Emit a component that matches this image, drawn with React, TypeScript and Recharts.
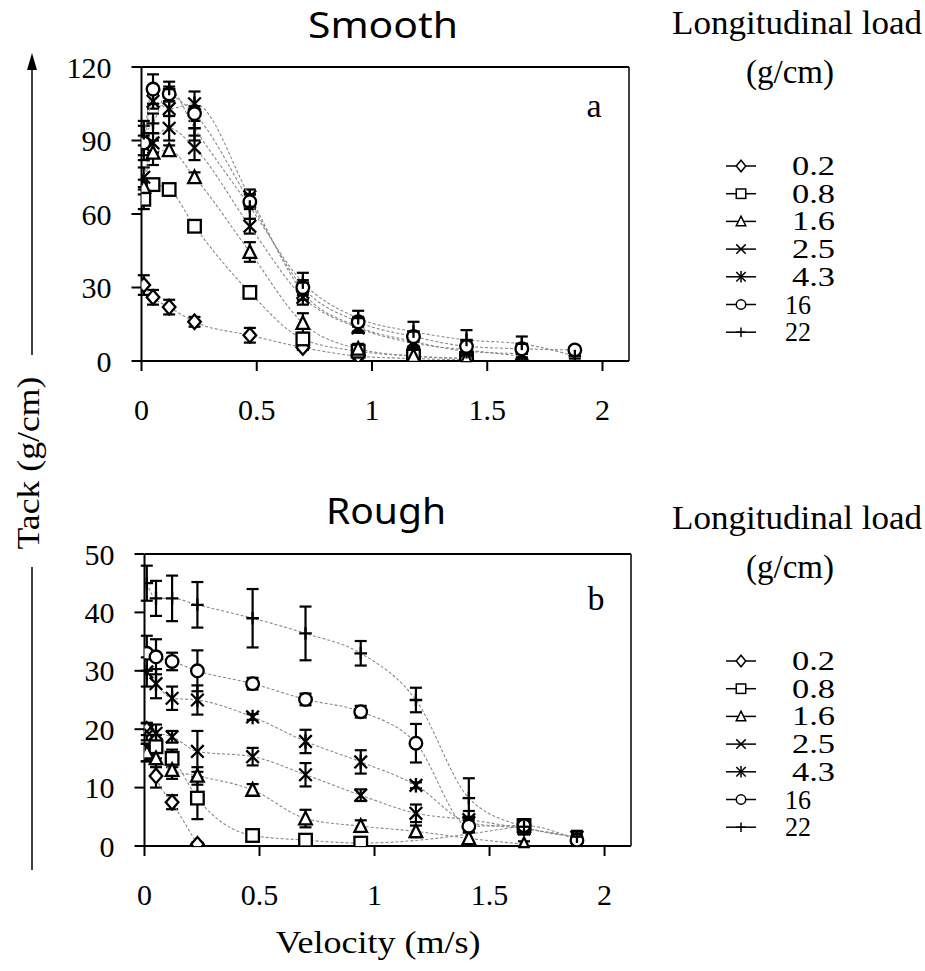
import React from 'react';
import { ComposedChart, Line, XAxis, YAxis, ErrorBar, ReferenceLine } from 'recharts';

// ---------- data ----------
const velocities = [0.01, 0.05, 0.12, 0.23, 0.47, 0.7, 0.94, 1.18, 1.41, 1.65, 1.88];
const loads = ['0.2', '0.8', '1.6', '2.5', '4.3', '16', '22'];
const markers = ['diamond', 'square', 'triangle', 'cross', 'asterisk', 'circle', 'plus'];
const xTicks = [0, 0.5, 1, 1.5, 2];
const smoothTicks = [0, 30, 60, 90, 120];
const roughTicks = [0, 10, 20, 30, 40, 50];

// Smooth surface: tack (g/cm) per velocity, null = not measured
const smooth02 = [31, 26, 22, 16, 10.5, 5.5, 2, 1, 0.5, null, null];
const smooth08 = [66, 72, 70, 55, 28, 9, 4, 2, 1, null, null];
const smooth16 = [71, 85, 86, 75, 44.5, 15.5, 5, 2, 1, null, null];
const smooth25 = [75, 89, 95, 87, 55, 26, 13.5, 7.3, 4.5, 2, null];
const smooth43 = [88, 106, 103, 105, 67, 28, 14, 8, 4, 3, null];
const smooth160 = [89, 111, 109, 101, 65, 30, 16, 10, 6, 5, 4.5];
const smooth220 = [93, 97, 111, 95, 63, 32, 17.5, 12, 8.6, 7, 2];

const smoothErr02 = [4, 3, 3, 2, 3, 1, 1, 0.5, 0.5, null, null];
const smoothErr08 = [4, 2, 1, 2, 2, 1, 1, 1, 1, null, null];
const smoothErr16 = [3, 5, 2, 2, 4, 4, 2, 1, 1, null, null];
const smoothErr25 = [4, 4, 5, 5, 3, 3, 2, 2, 2, 1, null];
const smoothErr43 = [4, 3, 3, 5, 3, 3, 2, 2, 2, 1.5, null];
const smoothErr160 = [7, 6, 3, 3, 3, 3, 2, 2, 2, 2, 1.5];
const smoothErr220 = [5, 4, 3, 5, 5, 4, 3, 4, 4, 3, 1];

// Rough surface
const rough02 = [20, 12, 7.5, 0.3, null, null, null, null, null, null, null];
const rough08 = [16, 17, 15, 8.2, 1.8, 1, 0.5, null, null, 3.5, null];
const rough16 = [16, 15, 13, 12, 9.6, 4.7, 3.4, 2.5, 1.3, 0.3, null];
const rough25 = [19.6, 19.3, 18.7, 16.2, 15.3, 12.2, 8.7, 5.6, 4.5, 3, 1.5];
const rough43 = [29.8, 27.8, 25.3, 25, 22.1, 17.9, 14.4, 10.4, 4, 3, 1.5];
const rough160 = [33, 32.4, 31.6, 30, 27.8, 25.1, 23, 17.6, 3.4, 3.5, 1];
const rough220 = [45, 42.4, 42.4, 41.3, 39, 36.4, 33, 25, 8.2, 3.3, 1.6];

const roughErr02 = [1, 2, 1.2, 0.3, null, null, null, null, null, null, null];
const roughErr08 = [1.5, 2, 1.5, 3.6, 0.5, 0.5, 0.5, null, null, 1, null];
const roughErr16 = [1.5, 1.5, 1.5, 1.5, 1, 1.5, 1, 1, 1, 0.5, null];
const roughErr25 = [1.5, 1.5, 1, 3.5, 1.5, 2, 1, 1.5, 1.5, 1, 1];
const roughErr43 = [2.5, 2.5, 2, 2.5, 0.5, 2, 2, 0.5, 1, 1, 1];
const roughErr160 = [3, 3, 1.5, 3.5, 1, 1, 1, 3.3, 1, 1, 1];
const roughErr220 = [3, 3, 3.9, 3.9, 5, 4.6, 2.1, 2.1, 3.4, 1, 1];

const smoothSeries = [smooth02, smooth08, smooth16, smooth25, smooth43, smooth160, smooth220];
const smoothErrors = [smoothErr02, smoothErr08, smoothErr16, smoothErr25, smoothErr43, smoothErr160, smoothErr220];
const roughSeries = [rough02, rough08, rough16, rough25, rough43, rough160, rough220];
const roughErrors = [roughErr02, roughErr08, roughErr16, roughErr25, roughErr43, roughErr160, roughErr220];

// ---------- helpers ----------
const serif = 'Liberation Serif';
const sans = 'Noto Sans';

function build(vals: (number | null)[], errs: (number | null)[]) {
  return velocities
    .map((v, i) => ({ v, t: vals[i], e: errs[i] ?? 0.5 }))
    .filter((d) => d.t !== null && d.t !== undefined);
}

function Marker({ shape, cx, cy, s = 1, sw = 2.3 }: { shape: string; cx: number; cy: number; s?: number; sw?: number }) {
  const r = 6.3 * s;
  const common = { fill: '#fff', stroke: '#000', strokeWidth: sw };
  switch (shape) {
    case 'diamond':
      return <polygon points={`${cx},${cy - r - 1} ${cx + r},${cy} ${cx},${cy + r + 1} ${cx - r},${cy}`} {...common} />;
    case 'square':
      return <rect x={cx - r} y={cy - r} width={2 * r} height={2 * r} {...common} />;
    case 'triangle':
      return <polygon points={`${cx},${cy - r - 0.5} ${cx + r},${cy + r - 0.5} ${cx - r},${cy + r - 0.5}`} {...common} />;
    case 'cross':
      return (
        <g stroke="#000" strokeWidth={sw}>
          <line x1={cx - r} y1={cy - r} x2={cx + r} y2={cy + r} />
          <line x1={cx - r} y1={cy + r} x2={cx + r} y2={cy - r} />
        </g>
      );
    case 'asterisk':
      return (
        <g stroke="#000" strokeWidth={sw}>
          <line x1={cx - r} y1={cy - r} x2={cx + r} y2={cy + r} />
          <line x1={cx - r} y1={cy + r} x2={cx + r} y2={cy - r} />
          <line x1={cx} y1={cy - r - 1} x2={cx} y2={cy + r + 1} />
        </g>
      );
    case 'circle':
      return <circle cx={cx} cy={cy} r={r} {...common} />;
    default:
      return (
        <g stroke="#000" strokeWidth={sw}>
          <line x1={cx - r} y1={cy} x2={cx + r} y2={cy} />
          <line x1={cx} y1={cy - r} x2={cx} y2={cy + r} />
        </g>
      );
  }
}

function makeDot(shape: string, name: string) {
  return (p: any) => {
    if (p == null || !Number.isFinite(p.cx) || !Number.isFinite(p.cy)) return <g key={`${name}-${p?.index}`} />;
    return (
      <g key={`${name}-${p.index}`}>
        <Marker shape={shape} cx={p.cx} cy={p.cy} />
      </g>
    );
  };
}

const axisLine = { stroke: '#000', strokeWidth: 2 };
const tickStyle = { fill: '#000', fontSize: 30, style: { fontFamily: serif } };

function Panel({ series, errors, yMax, yTicks, prefix, width, height, margin }: any) {
  return (
    <ComposedChart width={width} height={height} margin={margin} style={{ fontFamily: serif }}>
      <XAxis
        type="number"
        dataKey="v"
        domain={[0, 2.115]}
        allowDataOverflow
        ticks={xTicks}
        axisLine={axisLine}
        tickLine={axisLine}
        tickSize={10}
        tickMargin={28}
        tick={tickStyle}
        height={40}
      />
      <YAxis
        type="number"
        domain={[0, yMax]}
        allowDataOverflow
        ticks={yTicks}
        axisLine={axisLine}
        tickLine={axisLine}
        tickSize={10}
        tickMargin={20}
        tick={tickStyle}
        width={60}
      />
      <ReferenceLine y={yMax} stroke="#000" strokeWidth={2} />
      <ReferenceLine x={2.115} stroke="#000" strokeWidth={1.5} />
      {series.map((vals: (number | null)[], i: number) => (
        <Line
          key={`${prefix}-${loads[i]}`}
          data={build(vals, errors[i])}
          dataKey="t"
          name={loads[i]}
          type="monotone"
          stroke="#8a8a8a"
          strokeWidth={1.1}
          strokeDasharray="3 2"
          isAnimationActive={false}
          dot={makeDot(markers[i], `${prefix}-${loads[i]}`)}
          activeDot={false}
        >
          <ErrorBar dataKey="e" direction="y" width={6} stroke="#000" strokeWidth={2.2} />
        </Line>
      ))}
    </ComposedChart>
  );
}

function LegendBlock({ y0 }: { y0: number }) {
  return (
    <g fill="#000" style={{ fontFamily: serif }}>
      <text x={797} y={y0 + 34} textAnchor="middle" fontSize={33} textLength={250} lengthAdjust="spacingAndGlyphs">
        Longitudinal load
      </text>
      <text x={790} y={y0 + 83} textAnchor="middle" fontSize={33} textLength={88} lengthAdjust="spacingAndGlyphs">
        (g/cm)
      </text>
      {loads.map((l, i) => {
        const cy = y0 + 166 + i * 27.7;
        const wide = l.length >= 3;
        return (
          <g key={l}>
            <line x1={726} x2={756} y1={cy} y2={cy} stroke="#000" strokeWidth={1.5} />
            <Marker shape={markers[i]} cx={741} cy={cy} s={0.75} sw={1.5} />
            <text x={wide ? 792 : 785} y={cy + 9} fontSize={27} textLength={wide ? 43 : 26} lengthAdjust="spacingAndGlyphs">
              {l}
            </text>
          </g>
        );
      })}
    </g>
  );
}

export default function App() {
  return (
    <div style={{ position: 'absolute', left: 0, top: 0, width: 925, height: 971, background: '#fff', overflow: 'hidden', fontFamily: serif }}>
      <div style={{ position: 'absolute', left: 0, top: 0 }}>
        <Panel
          series={smoothSeries}
          errors={smoothErrors}
          yMax={120}
          yTicks={smoothTicks}
          prefix="smooth"
          width={640}
          height={430}
          margin={{ top: 67, right: 11, bottom: 29, left: 81.5 }}
        />
      </div>
      <div style={{ position: 'absolute', left: 0, top: 480 }}>
        <Panel
          series={roughSeries}
          errors={roughErrors}
          yMax={50}
          yTicks={roughTicks}
          prefix="rough"
          width={640}
          height={440}
          margin={{ top: 74, right: 9, bottom: 34, left: 84.5 }}
        />
      </div>
      <svg width={925} height={971} style={{ position: 'absolute', left: 0, top: 0, pointerEvents: 'none' }}>
        <text x={383} y={38} textAnchor="middle" style={{ fontFamily: sans }} fontSize={36} textLength={150} lengthAdjust="spacingAndGlyphs" fill="#000">
          Smooth
        </text>
        <text x={386} y={524} textAnchor="middle" style={{ fontFamily: sans }} fontSize={36} textLength={120} lengthAdjust="spacingAndGlyphs" fill="#000">
          Rough
        </text>
        <g style={{ fontFamily: serif }} fill="#000">
          <text x={594} y={117} textAnchor="middle" fontSize={34}>a</text>
          <text x={596} y={610} textAnchor="middle" fontSize={34}>b</text>
          <text
            x={39}
            y={463}
            transform="rotate(-90 39 463)"
            textAnchor="middle"
            fontSize={32}
            textLength={173}
            lengthAdjust="spacingAndGlyphs"
          >
            Tack (g/cm)
          </text>
          <text x={378} y={953} textAnchor="middle" fontSize={32} textLength={205} lengthAdjust="spacingAndGlyphs">
            Velocity (m/s)
          </text>
        </g>
        <line x1={32} y1={62} x2={32} y2={355} stroke="#000" strokeWidth={1.5} />
        <polygon points="32,53 27,70 37,70" fill="#000" />
        <line x1={32} y1={567} x2={32} y2={870} stroke="#000" strokeWidth={1.5} />
        <LegendBlock y0={0} />
        <LegendBlock y0={495} />
      </svg>
    </div>
  );
}
